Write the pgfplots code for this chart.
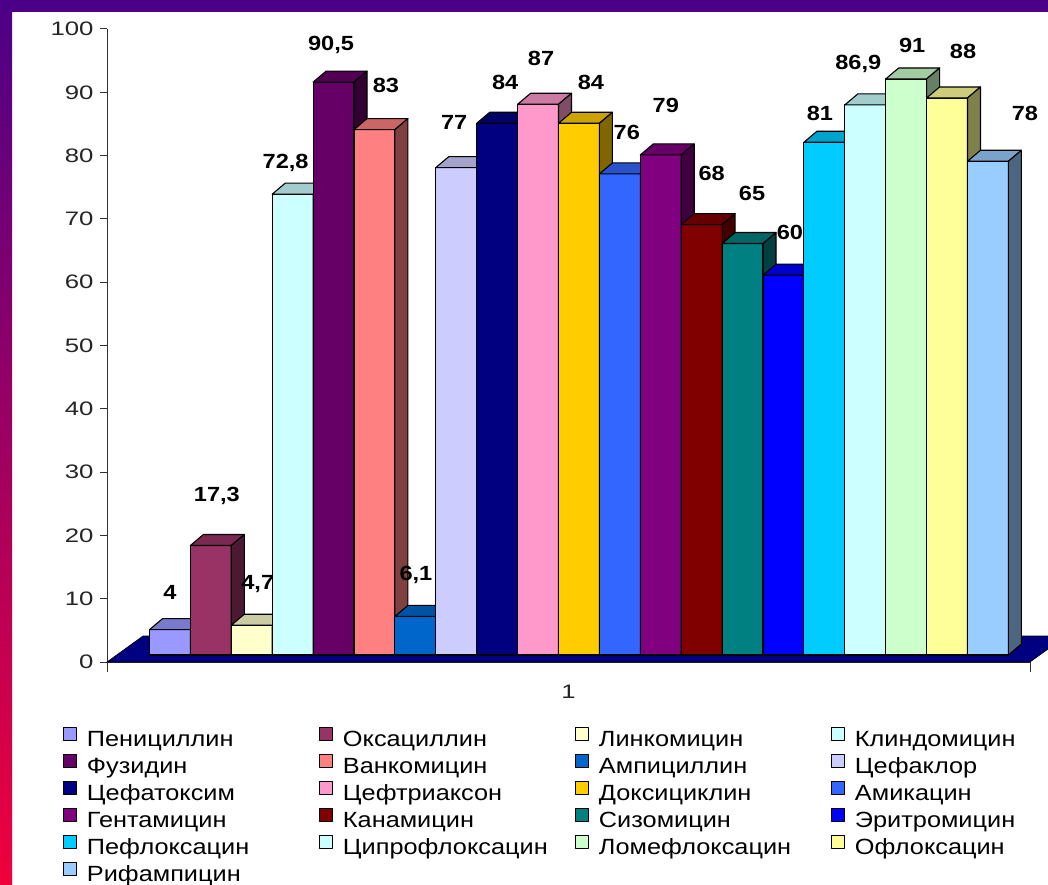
\documentclass[border=0pt]{standalone}
\usepackage{fontspec}
\setmainfont{Liberation Sans}[FakeStretch=1.15]
\newfontfamily\tickfamily{Liberation Sans}[FakeStretch=1.32]
\usepackage{pgfplots}
\pgfplotsset{compat=1.18}

% frame colours
\definecolor{frametop}{RGB}{75,0,135}
\definecolor{framemid}{RGB}{150,0,130}
\definecolor{framebot}{RGB}{240,0,60}
\definecolor{floorblue}{HTML}{000080}

% bar colours
\definecolor{c01}{HTML}{9999FF}
\definecolor{c02}{HTML}{993366}
\definecolor{c03}{HTML}{FFFFCC}
\definecolor{c04}{HTML}{CCFFFF}
\definecolor{c05}{HTML}{660066}
\definecolor{c06}{HTML}{FF8080}
\definecolor{c07}{HTML}{0066CC}
\definecolor{c08}{HTML}{CCCCFF}
\definecolor{c09}{HTML}{000080}
\definecolor{c10}{HTML}{FF99CC}
\definecolor{c11}{HTML}{FFCC00}
\definecolor{c12}{HTML}{3366FF}
\definecolor{c13}{HTML}{800080}
\definecolor{c14}{HTML}{800000}
\definecolor{c15}{HTML}{008080}
\definecolor{c16}{HTML}{0000FF}
\definecolor{c17}{HTML}{00CCFF}
\definecolor{c18}{HTML}{CCFFFF}
\definecolor{c19}{HTML}{CCFFCC}
\definecolor{c20}{HTML}{FFFF99}
\definecolor{c21}{HTML}{99CCFF}

\newcommand{\tickfont}{\tickfamily\fontsize{19.5bp}{22bp}\selectfont}
\newcommand{\valfont}{\fontsize{20.5bp}{22bp}\selectfont\bfseries}
\newcommand{\legfont}{\fontsize{22bp}{24bp}\selectfont}

% perspective of the bars (axis units): floor offset of the front face,
% and depth of the top and side faces
\newcommand{\base}{1.106}
\newcommand{\ddx}{0.318}
\newcommand{\ddy}{1.738}

\pgfplotsset{barface/.style={draw=black, line width=1.1bp, line join=round}}

% one bar: #1 slot, #2 value, #3 colour, #4 legend text,
% #5/#6 shift of the value label (bp)
\newcommand{\drugbar}[6]{%
  \pgfmathsetmacro{\xl}{#1+0.039}%
  \pgfmathsetmacro{\xr}{\xl+1}%
  \pgfmathsetmacro{\xlb}{\xl+\ddx}%
  \pgfmathsetmacro{\xrb}{\xr+\ddx}%
  \pgfmathsetmacro{\yb}{\base}%
  \pgfmathsetmacro{\yt}{#2+\base}%
  \pgfmathsetmacro{\ybb}{\base+\ddy}%
  \pgfmathsetmacro{\ytb}{#2+\base+\ddy}%
  \pgfmathsetmacro{\xc}{\xl+0.5}%
  \addplot[barface, fill=#3] coordinates {(\xl,\yb) (\xl,\yt) (\xr,\yt) (\xr,\yb)} -- cycle;
  \addlegendentry{\makebox[232bp][l]{#4}}
  \addplot[barface, forget plot, fill=#3!80!black] coordinates {(\xl,\yt) (\xlb,\ytb) (\xrb,\ytb) (\xr,\yt)} -- cycle;
  \addplot[barface, forget plot, fill=#3!50!black] coordinates {(\xr,\yb) (\xr,\yt) (\xrb,\ytb) (\xrb,\ybb)} -- cycle;
  \addplot[forget plot, draw=none, mark=none, point meta=y, nodes near coords,
    nodes near coords style={anchor=center, xshift=#5bp, yshift=#6bp,
      font=\valfont, text=black}] coordinates {(\xc,#2)};
}

\begin{document}
\begin{tikzpicture}
\useasboundingbox (0,0) rectangle (1048bp,885bp);
\clip (0,0) rectangle (1048bp,885bp);
\fill[white] (0,0) rectangle (1048bp,885bp);
\shade[top color=frametop, middle color=framemid, bottom color=framebot]
  (0,0) rectangle (12bp,885bp);
\fill[frametop] (0,873bp) rectangle (1048bp,885bp);

\begin{axis}[
  at={(107bp,223bp)}, anchor=south west,
  scale only axis, width=923bp, height=633bp,
  xmin=0, xmax=22.567, ymin=0, ymax=100,
  clip=false,
  axis lines=left,
  axis line style={-, draw=black!80, line width=1bp},
  xtick={0,22.567}, xticklabels={},
  ytick={0,10,...,100},
  tick align=outside, major tick length=7bp,
  xtick style={/pgfplots/major tick length=10bp},
  tick style={draw=black!80, line width=1bp},
  /pgf/number format/use comma,
  /pgf/number format/assume math mode=true,
  yticklabel style={font=\tickfont, text=black!85, xshift=-3bp},
  xlabel={1},
  xlabel style={at={(axis description cs:0.5,-0.047)}, anchor=center,
    font=\tickfont, text=black!85},
  legend columns=4,
  legend cell align=left,
  legend image code/.code={%
    \draw[#1, line width=0.9bp] (0bp,0.5bp) rectangle (13bp,13.5bp);
    \path (23bp,0bp);},
  legend style={at={(-0.0477,-0.1027)}, anchor=north west,
    draw=none, fill=none, inner sep=0pt, outer sep=0pt,
    font=\legfont, row sep=0bp,
    /tikz/every even column/.append style={column sep=0bp},
    nodes={inner sep=0pt, text height=19bp, text depth=7bp}},
]
% floor of the chart
\addplot[forget plot, fill=floorblue, draw=black, line width=0.6bp]
  coordinates {(0,0) (22.567,0) (23.45,4.107) (0.88,4.107)} -- cycle;

\drugbar{1}{4}{c01}{Пенициллин}{0}{44.7}
\drugbar{2}{17.3}{c02}{Оксациллин}{6}{56.5}
\drugbar{3}{4.7}{c03}{Линкомицин}{6}{48}
\drugbar{4}{72.8}{c04}{Клиндомицин}{-7}{38}
\drugbar{5}{90.5}{c05}{Фузидин}{-2.5}{44}
\drugbar{6}{83}{c06}{Ванкомицин}{11.5}{51.6}
\drugbar{7}{6.1}{c07}{Ампициллин}{0.6}{48}
\drugbar{8}{77}{c08}{Цефаклор}{-2}{52.6}
\drugbar{9}{84}{c09}{Цефатоксим}{8}{48}
\drugbar{10}{87}{c10}{Цефтриаксон}{3}{53}
\drugbar{11}{84}{c11}{Доксициклин}{12}{48}
\drugbar{12}{76}{c12}{Амикацин}{7}{48}
\drugbar{13}{79}{c13}{Гентамицин}{5}{56}
\drugbar{14}{68}{c14}{Канамицин}{10}{58.6}
\drugbar{15}{65}{c15}{Сизомицин}{9.5}{57.5}
\drugbar{16}{60}{c16}{Эритромицин}{6.5}{50}
\drugbar{17}{81}{c17}{Пефлоксацин}{-4.5}{36}
\drugbar{18}{86.9}{c18}{Ципрофлоксацин}{-7}{48}
\drugbar{19}{91}{c19}{Ломефлоксацин}{6}{41}
\drugbar{20}{88}{c20}{Офлоксацин}{16}{54}
\drugbar{21}{78}{c21}{Рифампицин}{37}{55}
\end{axis}
\end{tikzpicture}
\end{document}
